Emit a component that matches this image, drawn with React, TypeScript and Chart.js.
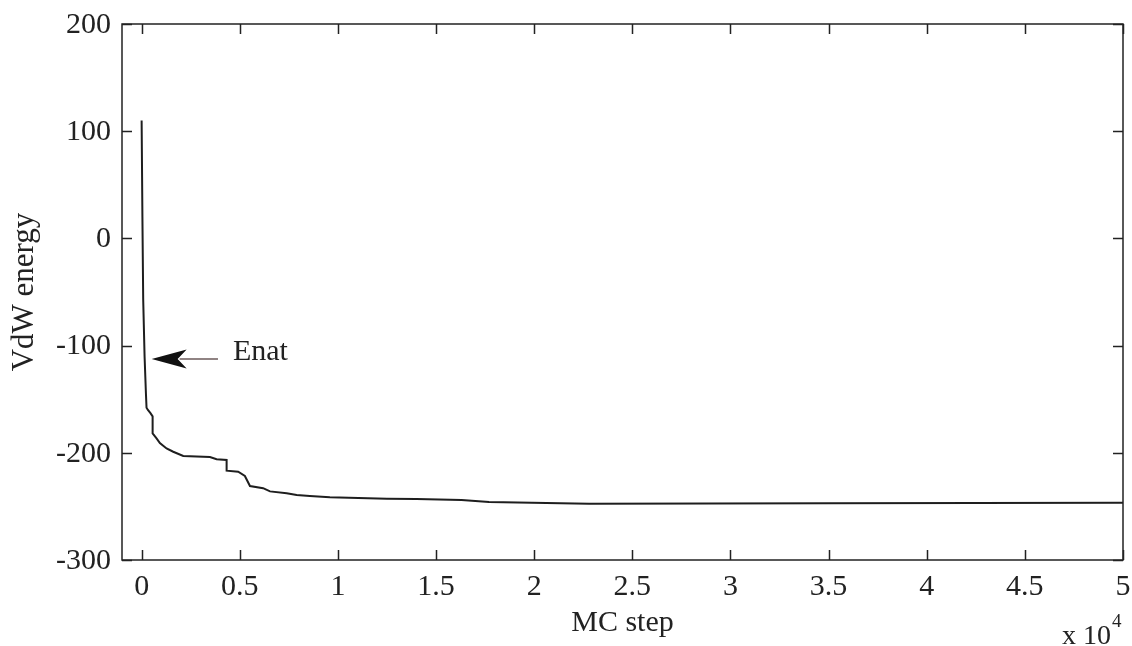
import React, { useEffect, useRef } from "react";
import { Chart, registerables } from "chart.js";

Chart.register(...registerables);

// MC step (in units of 10^4)
const mcStep: number[] = [
  0, 0.004, 0.008, 0.015, 0.022, 0.025, 0.032, 0.045, 0.056, 0.056, 0.076, 0.093,
  0.127, 0.161, 0.212, 0.348, 0.382, 0.433, 0.433, 0.492, 0.526, 0.552, 0.619,
  0.654, 0.739, 0.79, 0.857, 0.959, 1.25, 1.4, 1.63, 1.77, 2.28, 3.5, 5,
];
// VdW energy
const vdwEnergy: number[] = [
  110, 20, -57, -110, -145, -158, -160, -163, -166, -182, -186.5, -191,
  -196, -199, -203, -204, -206, -206.7, -216.7, -217.6, -221.6, -231, -233,
  -236, -237.7, -239.3, -240.3, -241.5, -242.8, -243, -244, -246, -247.5, -247, -246.5,
];

const xTickStep = 0.5;
const yTickStep = 100;
const xRange = [-0.1, 5];
const yRange = [-300, 200];

const annotationLabel = "Enat";
const annotationTip = { x: 0.051, y: -112.5 };
const annotationTail = { x: 0.389, y: -112.5 };
const annotationText = { x: 0.465, y: -113 };

const FONT = "'Liberation Serif', 'Times New Roman', serif";

const framePlugin = {
  id: "matlabFrame",
  afterDatasetsDraw(chart: any) {
    const { ctx, chartArea, scales } = chart;
    const { left, right, top, bottom } = chartArea;
    const xs = scales.x;
    const ys = scales.y;
    ctx.save();
    ctx.strokeStyle = "#222";
    ctx.lineWidth = 1.5;
    ctx.strokeRect(left, top, right - left, bottom - top);
    const tl = 10;
    ctx.beginPath();
    xs.ticks.forEach((t: any) => {
      const px = Math.round(xs.getPixelForValue(t.value)) + 0.5;
      ctx.moveTo(px, bottom);
      ctx.lineTo(px, bottom - tl);
      ctx.moveTo(px, top);
      ctx.lineTo(px, top + tl);
    });
    ys.ticks.forEach((t: any) => {
      const py = Math.round(ys.getPixelForValue(t.value)) + 0.5;
      ctx.moveTo(left, py);
      ctx.lineTo(left + tl, py);
      ctx.moveTo(right, py);
      ctx.lineTo(right - tl, py);
    });
    ctx.stroke();

    // tick labels
    ctx.fillStyle = "#222";
    ctx.font = `30px ${FONT}`;
    ctx.textAlign = "center";
    ctx.textBaseline = "middle";
    xs.ticks.forEach((t: any) => {
      ctx.fillText(String(Number(t.value.toFixed(2))), xs.getPixelForValue(t.value), bottom + 27);
    });
    ctx.textAlign = "right";
    ys.ticks.forEach((t: any) => {
      ctx.fillText(String(t.value), left - 11, ys.getPixelForValue(t.value) + 1);
    });

    // annotation arrow
    const tipX = xs.getPixelForValue(annotationTip.x);
    const tipY = ys.getPixelForValue(annotationTip.y);
    const tailX = xs.getPixelForValue(annotationTail.x);
    const tailY = ys.getPixelForValue(annotationTail.y);
    ctx.strokeStyle = "#6b5a5a";
    ctx.lineWidth = 1.5;
    ctx.beginPath();
    ctx.moveTo(tipX + 28, tipY);
    ctx.lineTo(tailX, tailY);
    ctx.stroke();
    ctx.fillStyle = "#111";
    ctx.beginPath();
    ctx.moveTo(tipX, tipY);
    ctx.lineTo(tipX + 35, tipY - 9.5);
    ctx.lineTo(tipX + 26, tipY);
    ctx.lineTo(tipX + 35, tipY + 9.5);
    ctx.closePath();
    ctx.fill();

    ctx.fillStyle = "#222";
    ctx.font = `30px ${FONT}`;
    ctx.textAlign = "left";
    ctx.textBaseline = "alphabetic";
    ctx.fillText(
      annotationLabel,
      xs.getPixelForValue(annotationText.x),
      ys.getPixelForValue(annotationText.y)
    );

    // exponent label
    ctx.font = `28px ${FONT}`;
    ctx.textAlign = "right";
    ctx.fillText("x 10", 1111, 644);
    ctx.font = `19px ${FONT}`;
    ctx.textAlign = "left";
    ctx.fillText("4", 1112, 627);
    ctx.restore();
  },
};

export default function App() {
  const ref = useRef<HTMLCanvasElement | null>(null);
  useEffect(() => {
    if (!ref.current) return;
    const chart = new Chart(ref.current, {
      type: "line",
      data: {
        datasets: [
          {
            data: mcStep.map((x, i) => ({ x, y: vdwEnergy[i] })),
            borderColor: "#1e1e1e",
            borderWidth: 2,
            pointRadius: 0,
            tension: 0,
            fill: false,
          },
        ],
      },
      options: {
        animation: false,
        responsive: false,
        maintainAspectRatio: false,
        layout: { padding: { left: 0, top: 24, right: 9, bottom: 0 } },
        plugins: { legend: { display: false }, tooltip: { enabled: false } },
        scales: {
          x: {
            type: "linear",
            min: xRange[0],
            max: xRange[1],
            grid: { display: false, drawTicks: false },
            border: { display: false },
            ticks: {
              display: false,
              stepSize: xTickStep,
              includeBounds: false,
            },
            title: {
              display: true,
              text: "MC step",
              color: "#222",
              font: { family: FONT, size: 30 },
              padding: { top: 0, bottom: 5 },
            },
            afterFit: (s: any) => {
              s.height = 86;
            },
          },
          y: {
            type: "linear",
            min: yRange[0],
            max: yRange[1],
            grid: { display: false, drawTicks: false },
            border: { display: false },
            ticks: {
              display: false,
              stepSize: yTickStep,
              includeBounds: false,
            },
            title: {
              display: true,
              text: "VdW energy",
              color: "#222",
              font: { family: FONT, size: 31 },
              padding: { top: 6, bottom: 0 },
            },
            afterFit: (s: any) => {
              s.width = 122;
            },
          },
        },
      },
      plugins: [framePlugin],
    });
    return () => chart.destroy();
  }, []);
  return (
    <div style={{ position: "fixed", left: 0, top: 0, width: 1132, height: 646, background: "#fff" }}>
      <canvas ref={ref} width={1132} height={646} />
    </div>
  );
}
